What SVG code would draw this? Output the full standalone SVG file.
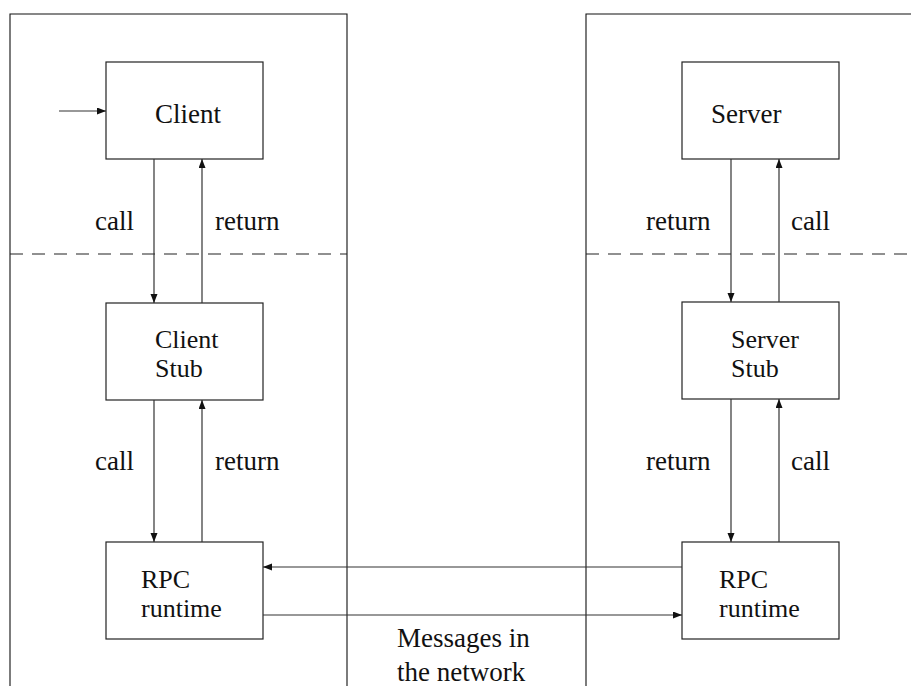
<svg xmlns="http://www.w3.org/2000/svg" width="911" height="686" viewBox="0 0 911 686">
  <style>
    .frame { fill: none; stroke: #111; stroke-width: 1.1; }
    .sep { fill: none; stroke: #222; stroke-width: 1.1; stroke-dasharray: 13 9; }
    .box { fill: #fff; stroke: #222; stroke-width: 1.2; }
    .edge { fill: none; stroke: #333; stroke-width: 1.2; marker-end: url(#tip); }
    .lbl { font-family: "Liberation Serif", "DejaVu Serif", serif; font-size: 27px; fill: #111; }
    .two { font-size: 26px; }
  </style>
  <defs>
    <marker id="tip" markerUnits="userSpaceOnUse" markerWidth="10" markerHeight="8" refX="9" refY="3.5" orient="auto">
      <path d="M0,0 L9,3.5 L0,7 Z" fill="#111"/>
    </marker>
  </defs>
  <rect width="911" height="686" fill="#fff"/>

  <!-- machine boundaries and stub/user separators -->
  <g id="client-machine">
    <path class="frame" d="M10,686 V14 H347 V686"/>
    <line class="sep" x1="10" y1="254" x2="347" y2="254"/>
  </g>
  <g id="server-machine">
    <path class="frame" d="M586,686 V14 H911"/>
    <line class="sep" x1="586" y1="254" x2="911" y2="254"/>
  </g>

  <!-- client side -->
  <g id="client">
    <rect class="box" x="106" y="62" width="157" height="97"/>
    <text class="lbl" x="155" y="123">Client</text>
  </g>
  <g id="client-stub">
    <rect class="box" x="106" y="303" width="157" height="97"/>
    <text class="lbl two" x="155" y="348">Client</text>
    <text class="lbl two" x="155" y="377">Stub</text>
  </g>
  <g id="client-rpc">
    <rect class="box" x="106" y="542" width="157" height="97"/>
    <text class="lbl two" x="141" y="588">RPC</text>
    <text class="lbl two" x="141" y="617">runtime</text>
  </g>

  <!-- server side -->
  <g id="server">
    <rect class="box" x="682" y="62" width="157" height="97"/>
    <text class="lbl" x="711" y="123">Server</text>
  </g>
  <g id="server-stub">
    <rect class="box" x="682" y="302" width="157" height="97"/>
    <text class="lbl two" x="731" y="348">Server</text>
    <text class="lbl two" x="731" y="377">Stub</text>
  </g>
  <g id="server-rpc">
    <rect class="box" x="682" y="542" width="157" height="97"/>
    <text class="lbl two" x="719" y="588">RPC</text>
    <text class="lbl two" x="719" y="617">runtime</text>
  </g>

  <!-- calls, returns and network messages -->
  <g id="connectors">
    <line class="edge" x1="59" y1="111" x2="106" y2="111"/>

    <line class="edge" x1="154" y1="159" x2="154" y2="303"/>
    <line class="edge" x1="202" y1="303" x2="202" y2="159"/>
    <line class="edge" x1="154" y1="400" x2="154" y2="542"/>
    <line class="edge" x1="202" y1="542" x2="202" y2="400"/>

    <line class="edge" x1="731" y1="159" x2="731" y2="302"/>
    <line class="edge" x1="779" y1="302" x2="779" y2="159"/>
    <line class="edge" x1="731" y1="399" x2="731" y2="542"/>
    <line class="edge" x1="779" y1="542" x2="779" y2="399"/>

    <line class="edge" x1="682" y1="567" x2="263" y2="567"/>
    <line class="edge" x1="263" y1="615" x2="682" y2="615"/>
  </g>

  <g id="labels">
    <text class="lbl" x="95" y="230">call</text>
    <text class="lbl" x="215" y="230">return</text>
    <text class="lbl" x="95" y="470">call</text>
    <text class="lbl" x="215" y="470">return</text>
    <text class="lbl" x="646" y="230">return</text>
    <text class="lbl" x="791" y="230">call</text>
    <text class="lbl" x="646" y="470">return</text>
    <text class="lbl" x="791" y="470">call</text>
    <text class="lbl" x="397" y="647">Messages in</text>
    <text class="lbl" x="397" y="681">the network</text>
  </g>
</svg>
